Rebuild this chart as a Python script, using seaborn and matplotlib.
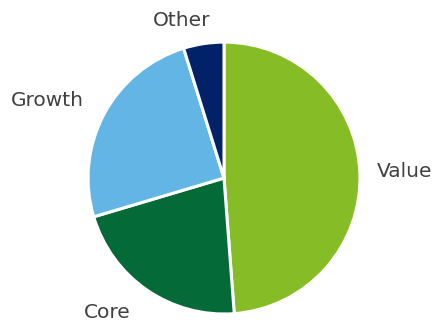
import matplotlib
matplotlib.use("Agg")
import matplotlib.pyplot as plt
import seaborn as sns

# Share of portfolio by style (percent)
categories = ["Value", "Core", "Growth", "Other"]
shares = [48.8, 21.6, 24.8, 4.8]
colors = ["#86BC25", "#046A38", "#62B5E5", "#012169"]

# label anchor points, in pie radius units
label_pos = {
    "Value": (1.33, 0.05),
    "Core": (-0.86, -0.99),
    "Growth": (-1.30, 0.57),
    "Other": (-0.31, 1.16),
}

sns.set_style("white")
plt.rcParams["font.family"] = ["DejaVu Sans"]

fig = plt.figure(figsize=(4.37, 3.26), dpi=100)
ax = fig.add_axes([0.2014, 0.0368, 0.6224, 0.834])

ax.pie(
    shares,
    colors=colors,
    startangle=90,
    counterclock=False,
    radius=1,
    wedgeprops=dict(edgecolor="white", linewidth=2.2),
)
ax.set_xlim(-1, 1)
ax.set_ylim(-1, 1)
ax.set_aspect("equal")
ax.axis("off")

for name in categories:
    x, y = label_pos[name]
    ax.text(x, y, name, ha="center", va="center", fontsize=14.5,
            color="#404040", clip_on=False)

fig.savefig("out.png", dpi=100)
